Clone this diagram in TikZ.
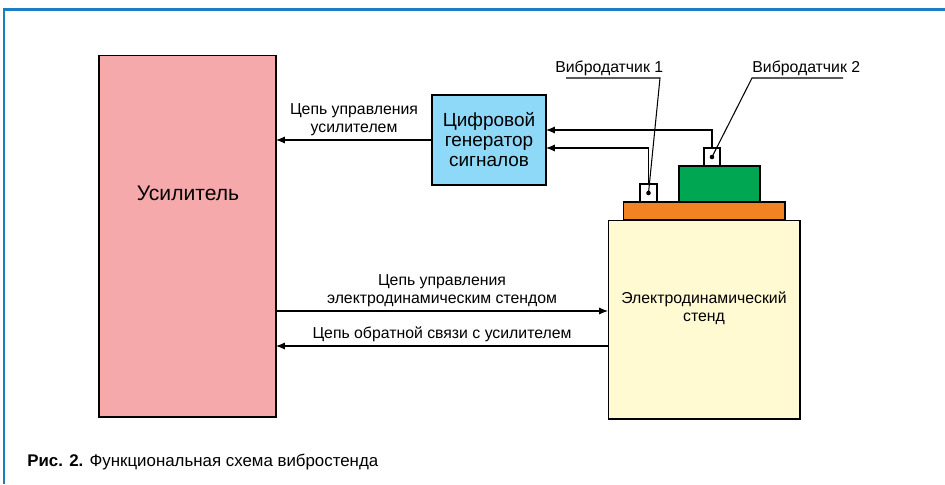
\documentclass[tikz,border=0pt]{standalone}
\usepackage{fontspec}
\setmainfont{Liberation Sans}
\usetikzlibrary{arrows.meta}
\definecolor{framebl}{HTML}{1B7EC2}
\definecolor{amppink}{HTML}{F6A9AB}
\definecolor{genblue}{HTML}{8ED8F8}
\definecolor{standyel}{HTML}{FFFAD2}
\definecolor{plateor}{HTML}{F28322}
\definecolor{loadgr}{HTML}{00A651}

\begin{document}
\begin{tikzpicture}[x=0.02cm,y=-0.02cm,
  blk/.style={draw,line width=0.6pt,inner sep=0pt,outer sep=0pt},
  sig/.style={line width=0.6pt,-{Latex[length=5pt,width=4pt]}},
  lbl/.style={font=\fontsize{9}{10.5}\selectfont,align=center,inner sep=2pt}]
\useasboundingbox (0,0) rectangle (945,484);
\pgfmathsetmacro{\ya}{311}
\pgfmathsetmacro{\yb}{346}
\pgfmathsetmacro{\yc}{130}
\pgfmathsetmacro{\yd}{148}
\pgfmathsetmacro{\yl}{78}
% frame
\draw[framebl,line width=1.2pt] (4,484) -- (4,9.5) -- (945,9.5);
% blocks
\node[blk,fill=amppink,minimum width=3.54cm,minimum height=7.24cm] (amp) at (187.5,236) {};
\node[font=\fontsize{12}{14}\selectfont] (amptxt) at (188,193) {Усилитель};
\node[blk,fill=genblue,minimum width=2.28cm,minimum height=1.8cm,align=center,
  font=\fontsize{10.8}{11.4}\selectfont] (gen) at (489,140) {Цифровой\\генератор\\сигналов};
\node[blk,fill=standyel,minimum width=3.84cm,minimum height=3.98cm] (stand) at (704,319.5) {};
\node[lbl] (standtxt) at (704,308) {Электродинамический\\стенд};
\node[blk,fill=plateor,minimum width=3.24cm,minimum height=0.36cm] (plate) at (704,211) {};
\node[blk,fill=loadgr,minimum width=1.62cm,minimum height=0.72cm] (load) at (719.5,184) {};
\node[blk,fill=white,minimum width=0.34cm,minimum height=0.36cm] (s1) at (648.5,193) {};
\node[blk,fill=white,minimum width=0.32cm,minimum height=0.36cm] (s2) at (712,157) {};
\fill (s1.center) circle (1.3pt);
\fill (s2.center) circle (1.3pt);
% connections
\draw[sig] (gen.west) -- node[lbl,above]{Цепь управления\\усилителем} (gen.west -| amp.east);
\draw[sig] (amp.east |- 0,\ya) -- node[lbl,above]{Цепь управления\\электродинамическим стендом} (stand.west |- 0,\ya);
\draw[sig] (stand.west |- 0,\yb) -- node[lbl,above]{Цепь обратной связи с усилителем} (amp.east |- 0,\yb);
\draw[sig] (s2.north) |- (gen.east |- 0,\yc);
\draw[sig] (s1.north) |- (gen.east |- 0,\yd);
% sensor labels
\node[lbl,anchor=base west,inner sep=0pt] (v1) at (555,72) {Вибродатчик 1};
\node[lbl,anchor=base west,inner sep=0pt] (v2) at (752,72) {Вибродатчик 2};
\coordinate (v1a) at (566,\yl);
\coordinate (v1b) at (660,\yl);
\coordinate (v2a) at (752,\yl);
\coordinate (v2b) at (843,\yl);
\draw[line width=0.6pt] (v1a) -- (v1b) -- (s1.center);
\draw[line width=0.6pt] (v2b) -- (v2a) -- (s2.center);
% caption
\node[anchor=base west,inner sep=0pt,font=\fontsize{9.6}{12}\selectfont] (cap) at (27,466)
  {\textbf{Рис. 2.} Функциональная схема вибростенда};
\end{tikzpicture}
\end{document}
